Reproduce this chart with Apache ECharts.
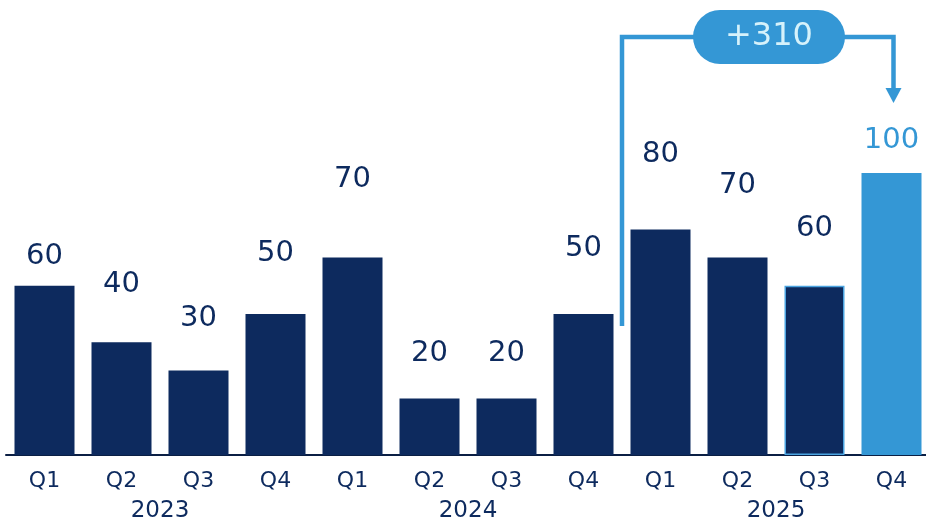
<!DOCTYPE html>
<html><head><meta charset="utf-8">
<script src="https://cdn.jsdelivr.net/npm/echarts@6/dist/echarts.min.js"></script>
<style>html,body{margin:0;padding:0;background:#fff;overflow:hidden;width:926px;height:525px}#c{width:940px;height:525px}</style>
</head><body><div id="c"></div>
<script>
const quarters = ['Q1','Q2','Q3','Q4','Q1','Q2','Q3','Q4','Q1','Q2','Q3','Q4'];
const years = ['2023','2024','2025'];
const values = [60,40,30,50,70,20,20,50,80,70,60,100];
const deltaLabel = '+310';
// label centre height above bar top (px), layout only
const labelLift = [29,58,52,61,78,45,45,66,75,72,57,33];

const NAVY = '#0d2a5e', BLUE = '#3497d5', FONT = '"DejaVu Sans"';
const chart = echarts.init(document.getElementById('c'));
const data = values.map((v,i)=>{
  const last = i===values.length-1;
  const item = {value:v,
    itemStyle:{color: last?BLUE:NAVY},
    label:{distance: labelLift[i]-15, color: last?BLUE:NAVY}};
  if(i===10) item.itemStyle = {color:NAVY, borderColor:'#4aa3e0', borderWidth:1.5};
  return item;
});
chart.setOption({
  animation:false,
  grid:{left:6, width:924, top:32, bottom:70},
  xAxis:[{type:'category', data:quarters, position:'bottom',
      axisLine:{lineStyle:{color:'#0b1f44', width:2}}, axisTick:{show:false},
      axisLabel:{color:NAVY, fontFamily:FONT, fontSize:22, margin:15}},
    {type:'category', data:years, position:'bottom', gridIndex:0,
      axisLine:{show:false}, axisTick:{show:false},
      axisLabel:{color:NAVY, fontFamily:FONT, fontSize:23, margin:45}}],
  yAxis:{type:'value', min:0, max:150, show:false, splitLine:{show:false}},
  series:[{type:'bar', xAxisIndex:0, barWidth:60, data:data,
    label:{show:true, position:'top', fontFamily:FONT, fontSize:29, lineHeight:30}}]
});
function drawAnn(){
  const p = (i,v)=>chart.convertToPixel({xAxisIndex:0,yAxisIndex:0},[i,v]);
  const x0 = (p(7,0)[0]+p(8,0)[0])/2;
  const y0 = p(7,values[7])[1]+12;
  const x1 = p(11,0)[0]+2;
  const yTip = p(11,values[11])[1]-70;
  const yTop = 37;
  const cx = 769;
  chart.setOption({graphic:[
    {type:'polyline', shape:{points:[[x0,y0],[x0,yTop],[x1,yTop],[x1,yTip-14]]},
      style:{stroke:BLUE, lineWidth:4.5, fill:null}},
    {type:'polygon', shape:{points:[[x1-8,yTip-15],[x1+8,yTip-15],[x1,yTip]]}, style:{fill:BLUE}},
    {type:'rect', shape:{x:cx-76, y:yTop-27, width:152, height:54, r:27}, style:{fill:BLUE}},
    {type:'text', x:cx, y:yTop, style:{text:deltaLabel, fill:'#d6f2fb', font:'32px '+FONT, align:'center', verticalAlign:'middle'}}
  ]});
}
drawAnn();
</script></body></html>
